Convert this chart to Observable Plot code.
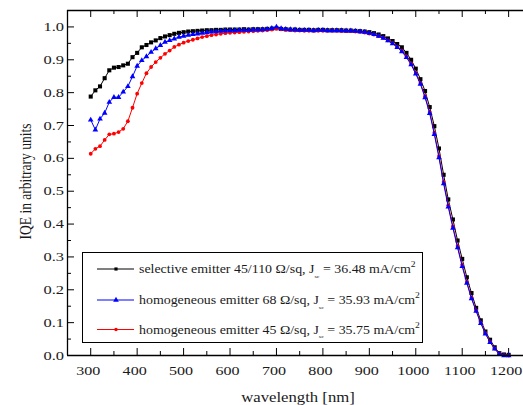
<!DOCTYPE html>
<html>
<head>
<meta charset="utf-8">
<script src="https://cdn.jsdelivr.net/npm/d3@7"></script>
<script src="https://cdn.jsdelivr.net/npm/@observablehq/plot@0.6"></script>
<style>
  html, body { margin: 0; padding: 0; background: #fff; }
  #chart { width: 523px; height: 405px; overflow: hidden; }
</style>
</head>
<body>
<div id="chart"></div>
<script>
// ---- data ----
const wavelengths = [300,310,320,330,340,350,360,370,380,390,400,410,420,430,440,450,460,470,480,490,500,510,520,530,540,550,560,570,580,590,600,610,620,630,640,650,660,670,680,690,700,710,720,730,740,750,760,770,780,790,800,810,820,830,840,850,860,870,880,890,900,910,920,930,940,950,960,970,980,990,1000,1010,1020,1030,1040,1050,1060,1070,1080,1090,1100,1110,1120,1130,1140,1150,1160,1170,1180,1190,1200];

const selective45_110 = [0.788,0.807,0.819,0.844,0.868,0.876,0.878,0.883,0.888,0.908,0.921,0.938,0.945,0.953,0.959,0.966,0.971,0.975,0.979,0.982,0.984,0.986,0.987,0.988,0.989,0.990,0.990,0.991,0.991,0.992,0.992,0.992,0.992,0.993,0.992,0.993,0.993,0.993,0.994,0.995,0.996,0.994,0.993,0.992,0.992,0.991,0.991,0.991,0.990,0.991,0.991,0.990,0.990,0.990,0.990,0.989,0.989,0.988,0.987,0.986,0.984,0.981,0.977,0.972,0.965,0.957,0.948,0.938,0.921,0.900,0.873,0.841,0.805,0.756,0.698,0.630,0.550,0.475,0.414,0.350,0.294,0.238,0.190,0.145,0.107,0.073,0.048,0.025,0.007,0.003,0.002];

const homogeneous68 = [0.717,0.687,0.720,0.738,0.771,0.786,0.786,0.802,0.819,0.849,0.881,0.898,0.910,0.923,0.934,0.944,0.954,0.959,0.964,0.969,0.972,0.975,0.977,0.979,0.981,0.983,0.985,0.986,0.987,0.988,0.989,0.989,0.990,0.990,0.990,0.991,0.991,0.992,0.993,0.996,1.000,0.995,0.993,0.992,0.991,0.990,0.990,0.990,0.989,0.990,0.990,0.989,0.989,0.989,0.989,0.988,0.988,0.987,0.986,0.984,0.981,0.977,0.972,0.966,0.958,0.949,0.938,0.925,0.907,0.885,0.857,0.826,0.785,0.737,0.673,0.602,0.523,0.452,0.388,0.328,0.271,0.220,0.173,0.135,0.098,0.066,0.040,0.020,0.004,0.000,0.000];

const homogeneous45 = [0.614,0.629,0.637,0.656,0.673,0.675,0.680,0.690,0.713,0.754,0.797,0.829,0.859,0.878,0.893,0.906,0.918,0.928,0.939,0.946,0.952,0.957,0.961,0.965,0.969,0.972,0.975,0.977,0.979,0.981,0.982,0.983,0.984,0.985,0.986,0.987,0.988,0.989,0.990,0.992,0.995,0.993,0.991,0.990,0.989,0.989,0.988,0.988,0.988,0.988,0.988,0.988,0.988,0.988,0.987,0.987,0.987,0.986,0.985,0.983,0.980,0.977,0.972,0.967,0.959,0.951,0.940,0.928,0.910,0.888,0.860,0.829,0.789,0.741,0.678,0.607,0.528,0.457,0.393,0.333,0.276,0.224,0.176,0.137,0.100,0.068,0.042,0.021,0.005,0.001,0.000];

const legendLabels = ["selective emitter 45/110 \u03A9/sq, J", "homogeneous emitter 68 \u03A9/sq, J", "homogeneous emitter 45 \u03A9/sq, J"];
const jscValues = ["36.48", "35.93", "35.75"];
const seriesColors = ["#000000", "#0000ff", "#ff0000"];
const seriesSymbols = ["square", "triangle", "circle"];

const xTicks = [300,400,500,600,700,800,900,1000,1100,1200];
const xMinorTicks = [350,450,550,650,750,850,950,1050,1150];
const yTicks = [0.0,0.1,0.2,0.3,0.4,0.5,0.6,0.7,0.8,0.9,1.0];
const yMinorTicks = [0.05,0.15,0.25,0.35,0.45,0.55,0.65,0.75,0.85,0.95];
const xDomain = [250, 1232];
const yDomain = [0, 1.05];
const xTitle = "wavelength [nm]";
const yTitle = "IQE in arbitrary units";

// ---- layout ----
const W = 523, H = 405, mL = 67, mR = 0, mT = 10, mB = 50;
const innerW = W - mL - mR, innerH = H - mT - mB;
const stretch = 1.22;
const fontFam = "'Liberation Serif', 'Times New Roman', serif";
const textColor = "#1a1a1a";

const toRows = (vals) => wavelengths.map((w, i) => ({w, v: vals[i]}));
const dBlack = toRows(selective45_110);
const dBlue = toRows(homogeneous68);
const dRed = toRows(homogeneous45);

function seriesMarks(data, color, symbol, r) {
  return [
    Plot.line(data, {x: "w", y: "v", stroke: color, strokeWidth: 1}),
    Plot.dot(data, {x: "w", y: "v", fill: color, stroke: "none", symbol, r})
  ];
}

const svg = Plot.plot({
  width: W, height: H,
  marginLeft: mL, marginRight: mR, marginTop: mT, marginBottom: mB,
  style: {fontFamily: fontFam, background: "white", color: "black"},
  x: {domain: xDomain, axis: null},
  y: {domain: yDomain, axis: null},
  marks: [
    // inward ticks: bottom, top, left
    Plot.ruleX(xTicks, {stroke: "black", strokeWidth: 1, insetTop: innerH - 7}),
    Plot.ruleX(xMinorTicks, {stroke: "black", strokeWidth: 1, insetTop: innerH - 4}),
    Plot.ruleX(xTicks, {stroke: "black", strokeWidth: 1, insetBottom: innerH - 7}),
    Plot.ruleX(xMinorTicks, {stroke: "black", strokeWidth: 1, insetBottom: innerH - 4}),
    Plot.ruleY(yTicks, {stroke: "black", strokeWidth: 1, insetRight: innerW - 7}),
    Plot.ruleY(yMinorTicks, {stroke: "black", strokeWidth: 1, insetRight: innerW - 4}),
    ...seriesMarks(dBlack, seriesColors[0], seriesSymbols[0], 2.3),
    ...seriesMarks(dRed, seriesColors[2], seriesSymbols[2], 1.9),
    ...seriesMarks(dBlue, seriesColors[1], seriesSymbols[1], 2.1),
    // frame (left, bottom, top)
    Plot.ruleX([xDomain[0]], {stroke: "black", strokeWidth: 1.3}),
    Plot.ruleY([yDomain[0], yDomain[1]], {stroke: "black", strokeWidth: 1.3})
  ]
});

const sx = (v) => svg.scale("x").apply(v);
const sy = (v) => svg.scale("y").apply(v);
const s = d3.select(svg);
const fmtY = d3.format(".1f");

// tick labels (widened like the reference)
const tl = s.append("g").attr("font-family", fontFam).attr("font-size", 13.5).attr("fill", textColor);
xTicks.forEach(v => {
  tl.append("text").attr("text-anchor", "middle")
    .attr("transform", `translate(${sx(v) - 2},374.5) scale(1.19,1)`)
    .text(String(v));
});
yTicks.forEach(v => {
  tl.append("text").attr("text-anchor", "end")
    .attr("transform", `translate(64,${sy(v) + 4.5}) scale(${stretch},1)`)
    .text(fmtY(v));
});

// axis titles
s.append("text")
  .attr("transform", `translate(${mL + innerW / 2 + 3},402) scale(${stretch},1)`)
  .attr("text-anchor", "middle")
  .attr("font-family", fontFam).attr("font-size", 13.7).attr("fill", textColor)
  .text(xTitle);
s.append("text")
  .attr("transform", `translate(31,${mT + innerH / 2 - 1}) scale(${stretch},1) rotate(-90)`)
  .attr("text-anchor", "middle")
  .attr("font-family", fontFam).attr("font-size", 13.5).attr("fill", textColor)
  .text(yTitle);

// legend
const lg = s.append("g");
lg.append("rect")
  .attr("x", 82.5).attr("y", 252.5).attr("width", 340).attr("height", 90)
  .attr("fill", "white").attr("stroke", "black").attr("stroke-width", 1);
const rowBase = [273, 304, 333.5];
legendLabels.forEach((lab, i) => {
  const cy = rowBase[i] - 4;
  lg.append("line").attr("x1", 97).attr("x2", 134).attr("y1", cy).attr("y2", cy)
    .attr("stroke", seriesColors[i]).attr("stroke-width", 1);
  const sym = i === 0 ? d3.symbolSquare : i === 1 ? d3.symbolTriangle : d3.symbolCircle;
  lg.append("path").attr("d", d3.symbol(sym, i === 1 ? 14 : 10)())
    .attr("transform", `translate(116,${cy})`).attr("fill", seriesColors[i]);
  const t = lg.append("text")
    .attr("text-anchor", "start")
    .attr("transform", `translate(139,${rowBase[i]}) scale(1.2,1)`)
    .attr("font-family", fontFam).attr("font-size", 11.6).attr("fill", textColor);
  t.append("tspan").text(lab);
  t.append("tspan").attr("font-size", 5).attr("dy", 5).text("sc");
  t.append("tspan").attr("dy", -5).text(` = ${jscValues[i]} mA/cm`);
  t.append("tspan").attr("font-size", 8).attr("dy", -6).text("2");
});

document.getElementById("chart").appendChild(svg);
</script>
</body>
</html>
